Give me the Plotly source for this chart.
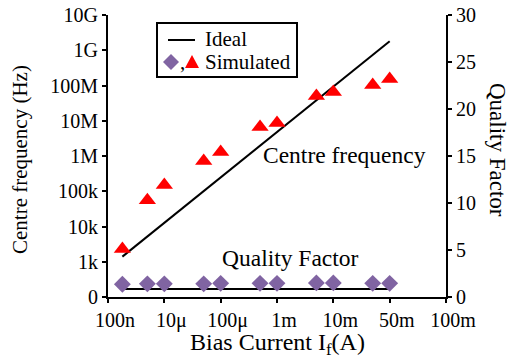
import plotly.graph_objects as go

# ---- data ----
bias_current = [1.8e-6, 5e-6, 1e-5, 5e-5, 1e-4, 5e-4, 1e-3, 5e-3, 1e-2, 5e-2, 1e-1]
freq_simulated = [2.3e3, 5.6e4, 1.5e5, 7.2e5, 1.3e6, 6.6e6, 8.6e6, 5.0e7, 6.5e7, 1.03e8, 1.53e8]
q_simulated = [1.35, 1.4, 1.4, 1.4, 1.45, 1.45, 1.45, 1.5, 1.5, 1.45, 1.45]

ideal_current = [1.8e-6, 1e-1]
freq_ideal = [1.4e3, 1.8e9]
q_ideal = [0.85, 0.85]

x_tickvals = [1e-6, 1e-5, 1e-4, 1e-3, 1e-2, 1e-1, 1e0]
x_ticktext = ["100n", "10μ", "100μ", "1m", "10m", "50m", "100m"]
y_tickvals = [1e2, 1e3, 1e4, 1e5, 1e6, 1e7, 1e8, 1e9, 1e10]
y_ticktext = ["0", "1k", "10k", "100k", "1M", "10M", "100M", "1G", "10G"]
y2_tickvals = [0, 5, 10, 15, 20, 25, 30]

FONT = "Liberation Serif"
PURPLE = "#8064A2"
RED = "#FF0000"

fig = go.Figure()
fig.add_trace(go.Scatter(x=ideal_current, y=freq_ideal, mode="lines",
                         line=dict(color="black", width=2), name="Ideal",
                         showlegend=False, yaxis="y"))
fig.add_trace(go.Scatter(x=bias_current, y=freq_simulated, mode="markers",
                         marker=dict(symbol="triangle-up", size=15, color=RED),
                         name="Simulated", showlegend=False, yaxis="y"))
fig.add_trace(go.Scatter(x=ideal_current, y=q_ideal, mode="lines",
                         line=dict(color="black", width=2), name="Ideal Q",
                         showlegend=False, yaxis="y2"))
fig.add_trace(go.Scatter(x=bias_current, y=q_simulated, mode="markers",
                         marker=dict(symbol="diamond", size=13, color=PURPLE),
                         name="Simulated Q", showlegend=False, yaxis="y2"))

axis_common = dict(showline=True, linecolor="black", linewidth=2, ticks="outside",
                   ticklen=4, tickwidth=2, tickcolor="black", showgrid=False,
                   zeroline=False, automargin=False,
                   tickfont=dict(family=FONT, size=20, color="black"))

fig.update_layout(
    template="none",
    width=510, height=358,
    margin=dict(l=108, r=64, t=15, b=61, autoexpand=False),
    paper_bgcolor="white", plot_bgcolor="white",
    showlegend=False,
    font=dict(family=FONT, color="black"),
    xaxis=dict(type="log", range=[-6, 0], tickmode="array", tickvals=x_tickvals,
               ticktext=x_ticktext, ticklabelshift=7, **axis_common),
    yaxis=dict(type="log", range=[2, 10], tickmode="array", tickvals=y_tickvals,
               ticktext=y_ticktext, **axis_common),
    yaxis2=dict(overlaying="y", side="right", range=[0, 30], tickmode="array",
                tickvals=y2_tickvals, **axis_common),
)

def px(x):
    return (x - 108) / 338

def py(y):
    return (297 - y) / 282

def note(text, x, y, size, xanchor="center", angle=0):
    return dict(text=text, x=px(x), y=py(y), xref="paper", yref="paper",
                xanchor=xanchor, yanchor="middle", textangle=angle,
                showarrow=False, font=dict(size=size, family=FONT, color="black"))

ann = [
    note("Centre frequency (Hz)", 20, 160, 21, angle=-90),
    note("Quality Factor", 498, 150, 23, angle=90),
    note("Bias Current I<sub>f</sub>(A)", 277.5, 344, 24),
    note("Centre frequency", 344, 155, 23.5),
    note("Quality Factor", 290, 258, 23.5),
    note("Ideal", 203, 39, 21, xanchor="left"),
    note("Simulated", 203, 62, 21, xanchor="left"),
    note(",", 182, 62, 21),
]
fig.update_layout(annotations=ann)

shapes = []
shapes.append(dict(type="rect", xref="paper", yref="paper", x0=px(157), x1=px(297),
                   y0=py(77), y1=py(23), line=dict(color="black", width=2),
                   fillcolor="rgba(0,0,0,0)"))
shapes.append(dict(type="line", xref="paper", yref="paper", x0=px(168), x1=px(195),
                   y0=py(40), y1=py(40), line=dict(color="black", width=2)))
shapes.append(dict(type="path", xref="paper", yref="paper", xsizemode="pixel",
                   ysizemode="pixel", xanchor=px(171), yanchor=py(62),
                   path="M-8,0 L0,8 L8,0 L0,-8 Z", fillcolor=PURPLE,
                   line=dict(width=0)))
shapes.append(dict(type="path", xref="paper", yref="paper", xsizemode="pixel",
                   ysizemode="pixel", xanchor=px(192), yanchor=py(62),
                   path="M-7,-6 L7,-6 L0,7 Z", fillcolor=RED,
                   line=dict(width=0)))
fig.update_layout(shapes=shapes)

fig.write_html("out.html",
               config={"displayModeBar": False},
               post_script="document.body.style.margin='0px';"
                           "document.body.style.overflow='hidden';")
